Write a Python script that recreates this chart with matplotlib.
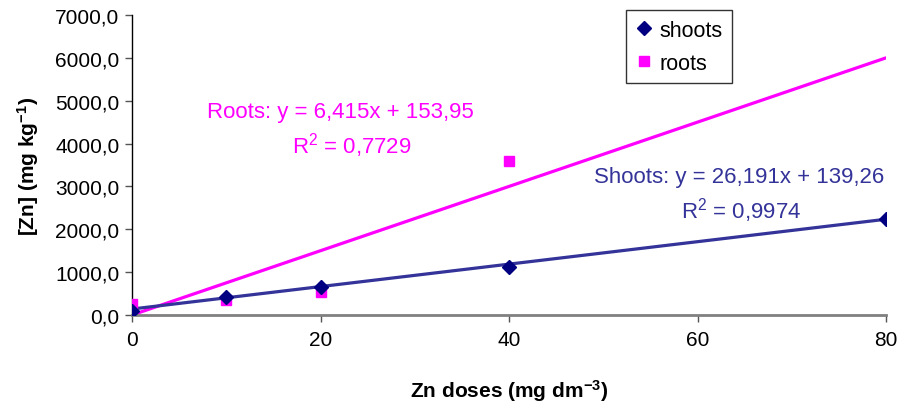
import numpy as np
import matplotlib
matplotlib.use("Agg")
import matplotlib.pyplot as plt
from matplotlib.ticker import FuncFormatter

plt.rcParams["font.family"] = ["Liberation Sans", "DejaVu Sans"]
plt.rcParams["mathtext.fontset"] = "custom"
plt.rcParams["mathtext.rm"] = "Liberation Sans"
plt.rcParams["mathtext.bf"] = "Liberation Sans:bold"
plt.rcParams["mathtext.default"] = "regular"

# Dados
doses = [0, 10, 20, 40, 80]
shoots = [90, 430, 650, 1130, 2230]
roots_doses = [0, 10, 20, 40]
roots = [250, 360, 540, 3600]

# Linhas de tendência (inclinação, intercepto) como aparecem desenhadas
shoots_trend = (26.191, 139.26)
roots_trend = (75.0, 0.0)
trend_x = [0, 80]

shoots_eq = ["Shoots: y = 26,191x + 139,26", "R$^2$ = 0,9974"]
roots_eq = ["Roots: y = 6,415x + 153,95", "R$^2$ = 0,7729"]

c_shoots_line = "#333399"
c_shoots_mark = "#000080"
c_roots = "#FF00FF"

fig = plt.figure(figsize=(9.03, 4.06), dpi=100)
ax = fig.add_axes([132 / 903, 1 - 316 / 406, (886 - 132) / 903, 300 / 406])

tx = np.array(trend_x, dtype=float)
ax.plot(tx, roots_trend[0] * tx + roots_trend[1], color=c_roots, lw=2.3,
        zorder=2, solid_capstyle="round")
ax.plot(tx, shoots_trend[0] * tx + shoots_trend[1], color=c_shoots_line, lw=2.3,
        zorder=2, solid_capstyle="round")

ax.plot(doses, shoots, ls="none", marker="D", ms=7, color=c_shoots_mark,
        label="shoots", zorder=4)
ax.plot(roots_doses, roots, ls="none", marker="s", ms=7.5, color=c_roots,
        label="roots", zorder=3)

ax.set_xlim(0, 80)
ax.set_ylim(0, 7000)
ax.set_xticks([0, 20, 40, 60, 80])
ax.set_yticks(np.arange(0, 7001, 1000))
ax.yaxis.set_major_formatter(FuncFormatter(lambda v, p: f"{v:.1f}".replace(".", ",")))
ax.tick_params(axis="both", labelsize=15, length=5, width=1, color="#555555")
ax.tick_params(axis="x", pad=6)
ax.tick_params(axis="y", pad=4)

for s in ["top", "right"]:
    ax.spines[s].set_visible(False)
ax.spines["bottom"].set_color("#808080")
ax.spines["bottom"].set_linewidth(2)
ax.spines["left"].set_color("black")
ax.spines["left"].set_linewidth(1)

ax.set_xlabel("Zn doses (mg dm$^{-3}$)", fontsize=15, fontweight="bold", labelpad=20)
ax.set_ylabel("[Zn] (mg kg$^{-1}$)", fontsize=15, fontweight="bold", labelpad=10)

ax.text(22.1, 4740, roots_eq[0], color=c_roots, fontsize=16, ha="center", va="center")
ax.text(23.3, 3970, roots_eq[1], color=c_roots, fontsize=16, ha="center", va="center")
ax.text(64.4, 3220, shoots_eq[0], color=c_shoots_line, fontsize=16, ha="center", va="center")
ax.text(64.6, 2470, shoots_eq[1], color=c_shoots_line, fontsize=16, ha="center", va="center")

leg = ax.legend(loc="upper left", bbox_to_anchor=((626 - 132) / 754, 1 - (11 - 16) / 300),
                fontsize=15.5, frameon=True, fancybox=False, handletextpad=0.3,
                handlelength=0.8, borderpad=0.45, labelspacing=0.55, borderaxespad=0)
leg.get_frame().set_edgecolor("black")
leg.get_frame().set_linewidth(1)

plt.savefig("out.png", dpi=100)
plt.close()
